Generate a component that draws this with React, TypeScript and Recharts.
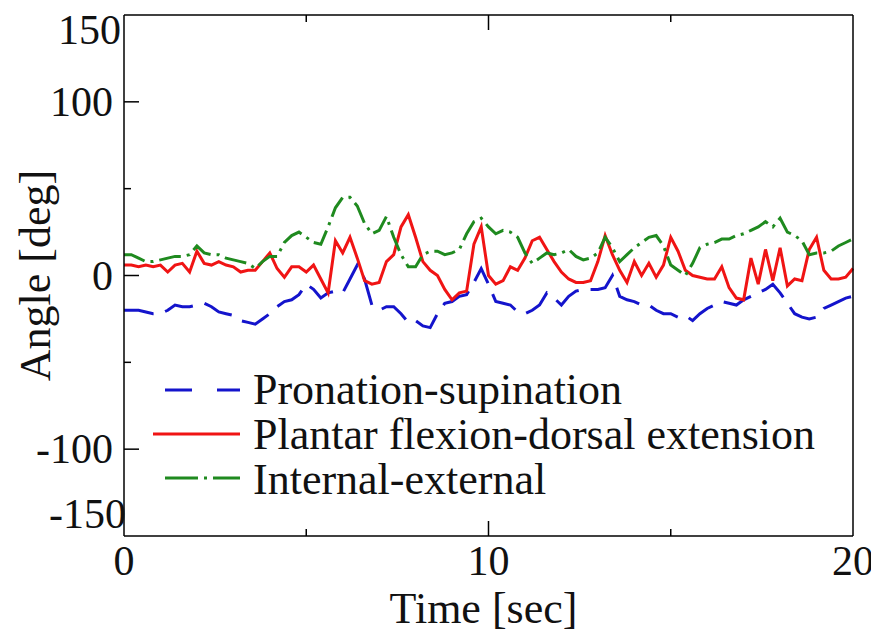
import React from 'react';
import { LineChart, Line, XAxis, YAxis } from 'recharts';

// time [sec], sampled every 0.2 s
const time = [
  0, 0.2, 0.4, 0.6, 0.8, 1, 1.2, 1.4, 1.6, 1.8,
  2, 2.2, 2.4, 2.6, 2.8, 3, 3.2, 3.4, 3.6, 3.8,
  4, 4.2, 4.4, 4.6, 4.8, 5, 5.2, 5.4, 5.6, 5.8,
  6, 6.2, 6.4, 6.6, 6.8, 7, 7.2, 7.4, 7.6, 7.8,
  8, 8.2, 8.4, 8.6, 8.8, 9, 9.2, 9.4, 9.6, 9.8,
  10, 10.2, 10.4, 10.6, 10.8, 11, 11.2, 11.4, 11.6, 11.8,
  12, 12.2, 12.4, 12.6, 12.8, 13, 13.2, 13.4, 13.6, 13.8,
  14, 14.2, 14.4, 14.6, 14.8, 15, 15.2, 15.4, 15.6, 15.8,
  16, 16.2, 16.4, 16.6, 16.8, 17, 17.2, 17.4, 17.6, 17.8,
  18, 18.2, 18.4, 18.6, 18.8, 19, 19.2, 19.4, 19.6, 19.8,
  20,
];

const pronation = [
  -20, -20, -20, -21, -22, -22, -20, -17, -18, -18,
  -17, -16, -18, -21, -22, -23, -26, -27, -28, -25,
  -22, -18, -15, -14, -11, -5, -8, -13, -10, -9,
  -10, -2, 6, -2, -17, -20, -18, -18, -22, -27,
  -26, -29, -30, -22, -16, -15, -12, -11, -4, 4,
  -5, -15, -16, -17, -21, -22, -20, -17, -10, -13,
  -17, -12, -9, -8, -8, -8, -7, 0, -12, -14,
  -15, -17, -17, -20, -22, -22, -24, -23, -26, -22,
  -19, -17, -15, -16, -17, -14, -12, -10, -8, -5,
  -10, -16, -22, -24, -25, -24, -19, -17, -15, -13,
  -12,
];

const plantar = [
  6, 6, 5, 6, 5, 6, 2, 6, 7, 2,
  14, 7, 6, 8, 6, 5, 2, 3, 3, 8,
  13, 4, -1, 5, 5, 2, 6, -2, -10, 20,
  13, 22, 10, -3, -5, -4, 8, 12, 28, 35,
  22, 8, 3, 0, -8, -14, -10, -9, 18, 28,
  0, -5, -3, 5, 3, 10, 20, 22, 15, 8,
  2, -2, -4, -4, -3, 8, 23, 12, 3, -4,
  8, 0, 7, -1, 6, 22, 14, 3, 0, -1,
  -2, -2, 5, -7, -13, -14, 10, -5, 15, -3,
  16, -6, -2, -3, 15, 22, 3, -2, -2, -1,
  4,
];

const internal = [
  12, 12, 10, 8, 8, 9, 10, 11, 11, 12,
  17, 13, 12, 12, 10, 9, 8, 7, 4, 8,
  11, 11, 19, 23, 25, 22, 19, 18, 28, 39,
  45, 45, 40, 30, 24, 26, 34, 22, 12, 5,
  5, 12, 14, 14, 12, 13, 15, 24, 31, 33,
  28, 24, 26, 25, 22, 13, 7, 10, 13, 12,
  13, 15, 11, 9, 10, 13, 22, 16, 8, 12,
  16, 19, 22, 23, 17, 6, 3, 0, 7, 16,
  18, 19, 21, 21, 23, 24, 26, 28, 31, 28,
  33, 25, 23, 20, 12, 13, 13, 14, 17, 19,
  21,
];

const xTicks = [0, 5, 10, 15, 20];
const xLabelled = [0, 10, 20];
const yTicks = [-150, -100, -50, 0, 50, 100, 150];
const yLabelled = [-150, -100, 0, 100, 150];

const seriesNames = ['Pronation-supination', 'Plantar flexion-dorsal extension', 'Internal-external'];

const data = time.map((t, i) => ({ t, pro: pronation[i], pla: plantar[i], int: internal[i] }));

const FONT = '"Liberation Serif", "Times New Roman", serif';
const BLUE = '#1414cc';
const RED = '#f01414';
const GREEN = '#1f8a1f';

const LeftTick = (props: any) => {
  const { x, y, payload } = props;
  const v = payload.value;
  const edge = Math.abs(v) === 150;
  const len = v % 100 === 0 ? 15 : 7;
  let ty = y + 14;
  let tx = x - 11;
  if (v === 150) { ty = y + 29; tx = x - 3; }
  if (v === -150) { ty = y - 8; tx = x + 2; }
  return (
    <g>
      {!edge && <line x1={x} y1={y} x2={x + len} y2={y} stroke="#000" strokeWidth={1.5} />}
      {yLabelled.includes(v) && (
        <text x={tx} y={ty} textAnchor="end" fontSize={42} fontFamily={FONT} fill="#111">{String(v)}</text>
      )}
    </g>
  );
};

const RightTick = (props: any) => {
  const { x, y, payload } = props;
  const v = payload.value;
  if (Math.abs(v) === 150) return <g />;
  const len = v % 100 === 0 ? 15 : 7;
  return <line x1={x} y1={y} x2={x - len} y2={y} stroke="#000" strokeWidth={1.5} />;
};

const BottomTick = (props: any) => {
  const { x, y, payload } = props;
  const v = payload.value;
  const edge = v === 0 || v === 20;
  const len = v % 10 === 0 ? 15 : 7;
  return (
    <g>
      {!edge && <line x1={x} y1={y} x2={x} y2={y - len} stroke="#000" strokeWidth={1.5} />}
      {xLabelled.includes(v) && (
        <text x={x} y={y + 39} textAnchor="middle" fontSize={42} fontFamily={FONT} fill="#111">{String(v)}</text>
      )}
    </g>
  );
};

const TopTick = (props: any) => {
  const { x, y, payload } = props;
  const v = payload.value;
  if (v === 0 || v === 20) return <g />;
  const len = v % 10 === 0 ? 15 : 7;
  return <line x1={x} y1={y} x2={x} y2={y + len} stroke="#000" strokeWidth={1.5} />;
};

const Legend = () => (
  <svg width={879} height={641} style={{ position: 'absolute', left: 0, top: 0, pointerEvents: 'none' }}>
    <line x1={165} y1={390} x2={240} y2={390} stroke={BLUE} strokeWidth={3} strokeDasharray="27 25" />
    <line x1={153} y1={434} x2={240} y2={434} stroke={RED} strokeWidth={3} />
    <line x1={165} y1={478} x2={240} y2={478} stroke={GREEN} strokeWidth={3} strokeDasharray="33 6 3 6 27" />
    {seriesNames.map((name, i) => (
      <text key={name} x={253} y={404 + i * 45} fontSize={44} fontFamily={FONT} fill="#111">{name}</text>
    ))}
  </svg>
);

export default function App() {
  return (
    <div style={{ position: 'relative', width: 879, height: 641, margin: -8, background: '#fff' }}>
      <LineChart width={879} height={641} data={data} margin={{ top: 0, right: 0, bottom: 0, left: 0 }}>
        <XAxis
          dataKey="t"
          type="number"
          domain={[0, 20]}
          ticks={xTicks}
          interval={0}
          height={105}
          tickSize={0}
          tickMargin={0}
          tickLine={false}
          axisLine={{ stroke: '#000', strokeWidth: 1.5 }}
          tick={BottomTick}
          label={{
            content: (p: any) => (
              <text x={p.viewBox.x + p.viewBox.width / 2 - 5} y={p.viewBox.y + 87} textAnchor="middle" fontSize={44} fontFamily={FONT} fill="#111">Time [sec]</text>
            ),
          }}
        />
        <XAxis
          xAxisId="top"
          orientation="top"
          dataKey="t"
          type="number"
          domain={[0, 20]}
          ticks={xTicks}
          interval={0}
          height={15}
          tickSize={0}
          tickMargin={0}
          tickLine={false}
          axisLine={{ stroke: '#000', strokeWidth: 1.5 }}
          tick={TopTick}
        />
        <YAxis
          domain={[-150, 150]}
          ticks={yTicks}
          interval={0}
          width={124}
          tickSize={0}
          tickMargin={0}
          tickLine={false}
          axisLine={{ stroke: '#000', strokeWidth: 1.5 }}
          tick={LeftTick}
          allowDataOverflow
          label={{
            content: (p: any) => (
              <text x={50} y={p.viewBox.y + p.viewBox.height / 2} transform={`rotate(-90 50 ${p.viewBox.y + p.viewBox.height / 2})`} textAnchor="middle" fontSize={44} fontFamily={FONT} fill="#111">Angle [deg]</text>
            ),
          }}
        />
        <YAxis
          yAxisId="right"
          orientation="right"
          domain={[-150, 150]}
          ticks={yTicks}
          interval={0}
          width={26}
          tickSize={0}
          tickMargin={0}
          tickLine={false}
          axisLine={{ stroke: '#000', strokeWidth: 1.5 }}
          tick={RightTick}
        />
        <Line dataKey="pro" type="linear" stroke={BLUE} strokeWidth={3} strokeDasharray="30 12" dot={false} isAnimationActive={false} />
        <Line dataKey="pla" type="linear" stroke={RED} strokeWidth={3} dot={false} isAnimationActive={false} />
        <Line dataKey="int" type="linear" stroke={GREEN} strokeWidth={3} strokeDasharray="22 6 3 6" dot={false} isAnimationActive={false} />
      </LineChart>
      <Legend />
    </div>
  );
}
